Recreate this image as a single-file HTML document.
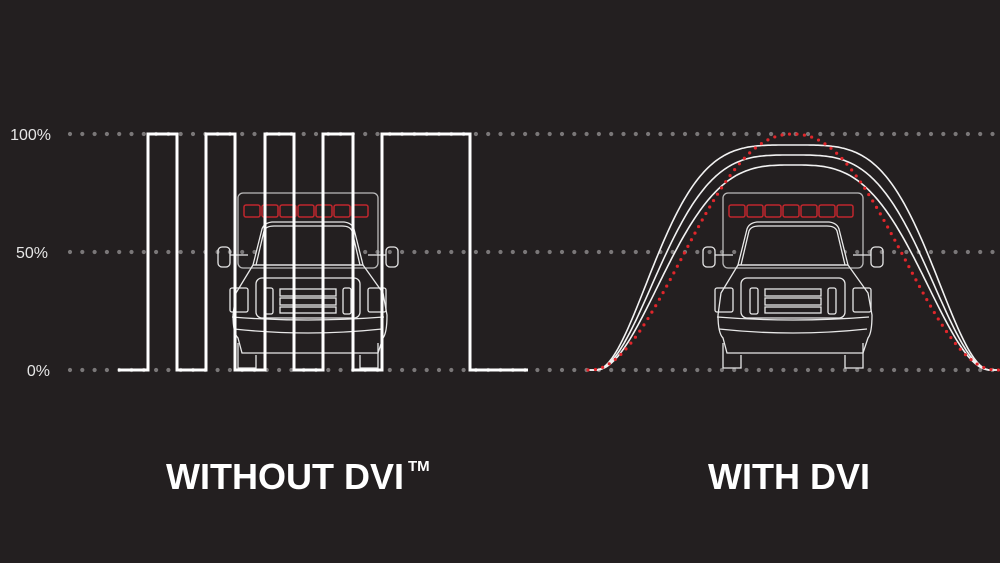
<!DOCTYPE html>
<html><head><meta charset="utf-8"><style>
html,body{margin:0;padding:0;background:#231f20;width:1000px;height:563px;overflow:hidden}
svg{display:block}
</style></head><body>
<svg id="s" width="1000" height="563" viewBox="0 0 1000 563" xmlns="http://www.w3.org/2000/svg">
<rect width="1000" height="563" fill="#231f20"/>
<g stroke="#7a7778" stroke-width="4.2" stroke-linecap="round" stroke-dasharray="0 12.3">
<line x1="70" y1="134" x2="1000" y2="134"/>
<line x1="70" y1="252" x2="1000" y2="252"/>
<line x1="70" y1="370" x2="1000" y2="370"/>
</g>
<g font-family="Liberation Sans, sans-serif" font-size="16" fill="#e6e6e6" text-anchor="end">
<text x="51" y="140">100%</text>
<text x="48" y="258">50%</text>
<text x="50" y="376">0%</text>
</g>
<defs>
<g id="truck" fill="none" stroke="#e8e8e8" stroke-width="1.3">
<rect x="-70" y="0" width="140" height="75" rx="5" stroke="#bbb"/>
<g stroke="#c0272d" stroke-width="1.5">
<rect x="-64" y="12" width="16" height="12" rx="2"/><rect x="-46" y="12" width="16" height="12" rx="2"/>
<rect x="-28" y="12" width="16" height="12" rx="2"/><rect x="-10" y="12" width="16" height="12" rx="2"/>
<rect x="8" y="12" width="16" height="12" rx="2"/><rect x="26" y="12" width="16" height="12" rx="2"/>
<rect x="44" y="12" width="16" height="12" rx="2"/>
</g>
<path d="M-55 72 L-46 36 Q-44 30 -36 29 L36 29 Q44 30 46 36 L55 72 Z" fill="#231f20"/>
<path d="M-52 72 L-44 38 Q-42 33 -34 33 L34 33 Q42 33 44 38 L52 72"/>
<line x1="-55" y1="72" x2="55" y2="72"/>
<rect x="-90" y="54" width="12" height="20" rx="4"/><rect x="78" y="54" width="12" height="20" rx="4"/>
<path d="M-78 62 L-60 62 M78 62 L60 62"/>
<path d="M-55 72 L-72 100 L-75 122 Q-75 140 -70 145 L-66 160 L70 160 L75 145 Q79 140 79 122 L75 100 L55 72"/>
<rect x="-52" y="85" width="104" height="40" rx="6"/>
<rect x="-78" y="95" width="18" height="24" rx="2"/><rect x="60" y="95" width="18" height="24" rx="2"/>
<rect x="-43" y="95" width="8" height="26" rx="2"/><rect x="35" y="95" width="8" height="26" rx="2"/>
<rect x="-28" y="96" width="56" height="7"/><rect x="-28" y="105" width="56" height="7"/><rect x="-28" y="114" width="56" height="6"/>
<path d="M-76 124 Q0 130 76 124 M-74 136 Q0 144 74 136"/>
<path d="M-70 150 L-70 175 L-52 175 L-52 162 M70 150 L70 175 L52 175 L52 162"/>
</g>
</defs>
<use href="#truck" x="308" y="193"/>
<use href="#truck" x="793" y="193"/>
<path d="M118 370 H148 V134 H177 V370 H206 V134 H235 V370 H265 V134 H294 V370 H323 V134 H353 V370 H382 V134 H470 V370 H528" fill="none" stroke="#fff" stroke-width="3" stroke-linejoin="miter"/>
<g id="curves" fill="none" stroke="#f2f2f2" stroke-width="1.6"></g>
<path id="red" fill="none" stroke="#e0262b" stroke-width="3.2" stroke-linecap="round" stroke-dasharray="0 7.5"/>
<g font-family="Liberation Sans, sans-serif" font-weight="bold" fill="#fff">
<text x="166" y="489" font-size="36">WITHOUT DVI</text>
<text x="408" y="471" font-size="15">TM</text>
<text x="708" y="489" font-size="36">WITH DVI</text>
</g>
</svg>
<script>
function curve(A,W,q){var d="";for(var x=588;x<=1000;x+=2){var u=Math.abs(x-793)/W;var g=u>=1?0:0.5*(1+Math.cos(Math.PI*Math.pow(u,q)));var y=370-A*g;d+=(x==588?"M":"L")+x+" "+y.toFixed(1);}return d;}
document.getElementById("red").setAttribute("d",curve(236,203,1.1));
var g=document.getElementById("curves");
[[225,197,1.88],[215,197,1.70],[205,197,1.55]].forEach(function(c){var p=document.createElementNS("http://www.w3.org/2000/svg","path");p.setAttribute("d",curve(c[0],c[1],c[2]));g.appendChild(p);});
</script>
</body></html>
